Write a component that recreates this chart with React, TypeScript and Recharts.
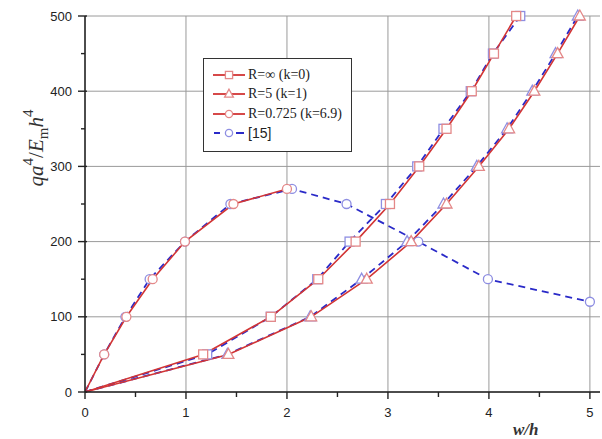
import { CartesianGrid, Legend, Line, LineChart, XAxis, YAxis } from "recharts";

const CHART_WIDTH = 602;
const CHART_HEIGHT = 439;
const RED = "#d23535";
const RED_MARK = "#e48888";
const BLUE = "#2a2ac8";
const BLUE_MARK = "#8e8ee2";
const AXIS = "#222";
const GRID = "#9a9a9a";

const xTicks = [0, 0.5, 1, 1.5, 2, 2.5, 3, 3.5, 4, 4.5, 5];
const yTicks = [0, 50, 100, 150, 200, 250, 300, 350, 400, 450, 500];
const xGrid = [0, 1, 2, 3, 4, 5];
const yGrid = [0, 100, 200, 300, 400, 500];

// R = inf (k = 0)
const squareRedX = [0, 1.17, 1.84, 2.31, 2.68, 3.02, 3.31, 3.58, 3.83, 4.05, 4.27];
const squareRedY = [0, 50, 100, 150, 200, 250, 300, 350, 400, 450, 500];
const squareRefX = [0, 1.21, 1.84, 2.3, 2.62, 2.98, 3.29, 3.55, 3.82, 4.04, 4.31];
const squareRefY = [0, 50, 100, 150, 200, 250, 300, 350, 400, 450, 500];

// R = 5 (k = 1)
const triRedX = [0, 1.42, 2.24, 2.79, 3.23, 3.58, 3.9, 4.2, 4.45, 4.68, 4.9];
const triRedY = [0, 50, 100, 150, 200, 250, 300, 350, 400, 450, 500];
const triRefX = [0, 1.41, 2.23, 2.74, 3.19, 3.55, 3.88, 4.18, 4.43, 4.66, 4.88];
const triRefY = [0, 50, 100, 150, 200, 250, 300, 350, 400, 450, 500];

// R = 0.725 (k = 6.9)
const circRedX = [0, 0.19, 0.41, 0.67, 0.99, 1.47, 2.0];
const circRedY = [0, 50, 100, 150, 200, 250, 270];
const circRefX = [0, 0.19, 0.4, 0.64, 0.99, 1.44, 2.05, 2.59, 3.3, 3.99, 5.0];
const circRefY = [0, 50, 100, 150, 200, 250, 270, 250, 200, 150, 120];

const legendOrder = ["R=\u221e (k=0)", "R=5 (k=1)", "R=0.725 (k=6.9)", "[15]"];
const legendShapes: Record<string, string> = {
  "R=\u221e (k=0)": "square",
  "R=5 (k=1)": "triangle",
  "R=0.725 (k=6.9)": "circle",
  "[15]": "circle",
};

const toPoints = (xs: number[], ys: number[]) => xs.map((x, i) => ({ x, y: ys[i] }));

function Marker({ shape, cx, cy, stroke, small }: { shape: string; cx: number; cy: number; stroke: string; small?: boolean }) {
  const s = small ? 0.8 : 1;
  if (shape === "square") {
    const h = 4.5 * s;
    return <rect x={cx - h} y={cy - h} width={h * 2} height={h * 2} fill="#fff" stroke={stroke} strokeWidth={1.3} />;
  }
  if (shape === "triangle") {
    const w = 5.5 * s;
    return (
      <polygon
        points={`${cx},${cy - 6 * s} ${cx + w},${cy + 4 * s} ${cx - w},${cy + 4 * s}`}
        fill="#fff"
        stroke={stroke}
        strokeWidth={1.3}
      />
    );
  }
  return <circle cx={cx} cy={cy} r={4.5 * s} fill="#fff" stroke={stroke} strokeWidth={1.3} />;
}

const makeDot = (shape: string, stroke: string) => (p: any) => {
  if (p.index === 0) return <g key={`d-${p.index}`} />;
  return (
    <g key={`d-${p.index}`}>
      <Marker shape={shape} cx={p.cx} cy={p.cy} stroke={stroke} />
    </g>
  );
};

function XTick({ x, y, payload }: any) {
  const v = payload.value;
  const major = Number.isInteger(v);
  return (
    <g>
      <line x1={x} x2={x} y1={y} y2={y + (major ? 7 : 5)} stroke={AXIS} strokeWidth={1.4} />
      {major && (
        <text x={x} y={y + 25} textAnchor="middle" fontFamily="Liberation Sans, Arial, sans-serif" fontSize={13} fill="#222">
          {v}
        </text>
      )}
    </g>
  );
}

function YTick({ x, y, payload }: any) {
  const v = payload.value;
  const major = v % 100 === 0;
  return (
    <g>
      <line x1={x - (major ? 7 : 4)} x2={x + (major ? 2 : 0)} y1={y} y2={y} stroke={AXIS} strokeWidth={1.4} />
      {major && (
        <text x={x - 13} y={y + 4.5} textAnchor="end" fontFamily="Liberation Sans, Arial, sans-serif" fontSize={13} fill="#222">
          {v}
        </text>
      )}
    </g>
  );
}

function YLabel() {
  return (
    <text transform="translate(43,148) rotate(-90)" textAnchor="middle" fontFamily="Liberation Serif, serif" fontSize={21} fill="#333">
      <tspan fontStyle="italic">qa</tspan>
      <tspan fontSize={15} dy={-10}>4</tspan>
      <tspan dy={10}>/</tspan>
      <tspan fontStyle="italic">E</tspan>
      <tspan fontSize={15} dy={5}>m</tspan>
      <tspan fontStyle="italic" dy={-5}>h</tspan>
      <tspan fontSize={15} dy={-10}>4</tspan>
    </text>
  );
}

function XLabel() {
  return (
    <text x={513} y={435} fontFamily="Liberation Serif, serif" fontStyle="italic" fontWeight="bold" fontSize={17} fill="#333">
      w/h
    </text>
  );
}

function LegendBox({ payload }: any) {
  const items = legendOrder.map((name) => (payload || []).find((p: any) => p.value === name)).filter(Boolean);
  return (
    <div
      style={{
        border: "1.3px solid #333",
        background: "#fff",
        width: 149,
        height: 94,
        boxSizing: "border-box",
        padding: "6px 0 0 9px",
      }}
    >
      {items.map((it: any) => {
        const isRef = it.value === "[15]";
        const color = isRef ? BLUE : RED;
        const mark = isRef ? BLUE_MARK : RED_MARK;
        return (
          <div key={it.value} style={{ display: "flex", alignItems: "center", height: 19.5 }}>
            <svg width={32} height={14} style={{ display: "block" }}>
              {isRef ? (
                <>
                  <line x1={1} x2={7} y1={7} y2={7} stroke={color} strokeWidth={2} />
                  <line x1={23} x2={31} y1={7} y2={7} stroke={color} strokeWidth={2} />
                </>
              ) : (
                <line x1={0} x2={32} y1={7} y2={7} stroke={color} strokeWidth={1.8} />
              )}
              <Marker shape={legendShapes[it.value]} cx={16} cy={7} stroke={mark} small />
            </svg>
            <span
              style={{
                marginLeft: 3,
                fontFamily: isRef ? "Liberation Sans, Arial, sans-serif" : "Liberation Serif, serif",
                fontSize: 14,
                color: "#222",
                whiteSpace: "nowrap",
                lineHeight: "14px",
              }}
            >
              {it.value}
            </span>
          </div>
        );
      })}
    </div>
  );
}

export default function App() {
  return (
    <div style={{ position: "absolute", left: 0, top: 0, width: CHART_WIDTH, height: CHART_HEIGHT, background: "#fff" }}>
      <LineChart width={CHART_WIDTH} height={CHART_HEIGHT} margin={{ top: 16, right: 2, bottom: 17, left: 0 }}>
        <CartesianGrid stroke={GRID} strokeWidth={1} horizontalValues={yGrid} verticalValues={xGrid} />
        <XAxis
          dataKey="x"
          type="number"
          domain={[0, 5.1]}
          ticks={xTicks}
          interval={0}
          tick={<XTick />}
          tickLine={false}
          tickSize={0}
          tickMargin={0}
          axisLine={{ stroke: AXIS, strokeWidth: 1.5 }}
          height={30}
          allowDataOverflow
          label={<XLabel />}
        />
        <YAxis
          type="number"
          domain={[0, 500]}
          ticks={yTicks}
          interval={0}
          tick={<YTick />}
          tickLine={false}
          tickSize={0}
          tickMargin={0}
          axisLine={{ stroke: AXIS, strokeWidth: 1.5 }}
          width={85}
          label={<YLabel />}
        />
        <Legend
          layout="vertical"
          align="center"
          verticalAlign="middle"
          content={<LegendBox />}
          wrapperStyle={{ left: 203, top: 58, width: 149, height: 94 }}
        />
        <Line
          name="[15] a"
          legendType="none"
          data={toPoints(squareRefX, squareRefY)}
          dataKey="y"
          type="linear"
          stroke={BLUE}
          strokeWidth={1.8}
          strokeDasharray="7 5"
          dot={makeDot("square", BLUE_MARK)}
          isAnimationActive={false}
        />
        <Line
          name="[15] b"
          legendType="none"
          data={toPoints(triRefX, triRefY)}
          dataKey="y"
          type="linear"
          stroke={BLUE}
          strokeWidth={1.8}
          strokeDasharray="7 5"
          dot={makeDot("triangle", BLUE_MARK)}
          isAnimationActive={false}
        />
        <Line
          name="[15]"
          data={toPoints(circRefX, circRefY)}
          dataKey="y"
          type="linear"
          stroke={BLUE}
          strokeWidth={1.8}
          strokeDasharray="7 5"
          dot={makeDot("circle", BLUE_MARK)}
          isAnimationActive={false}
        />
        <Line
          name={"R=\u221e (k=0)"}
          data={toPoints(squareRedX, squareRedY)}
          dataKey="y"
          type="linear"
          stroke={RED}
          strokeWidth={1.6}
          dot={makeDot("square", RED_MARK)}
          isAnimationActive={false}
        />
        <Line
          name="R=5 (k=1)"
          data={toPoints(triRedX, triRedY)}
          dataKey="y"
          type="linear"
          stroke={RED}
          strokeWidth={1.6}
          dot={makeDot("triangle", RED_MARK)}
          isAnimationActive={false}
        />
        <Line
          name="R=0.725 (k=6.9)"
          data={toPoints(circRedX, circRedY)}
          dataKey="y"
          type="linear"
          stroke={RED}
          strokeWidth={1.6}
          dot={makeDot("circle", RED_MARK)}
          isAnimationActive={false}
        />
      </LineChart>
    </div>
  );
}
